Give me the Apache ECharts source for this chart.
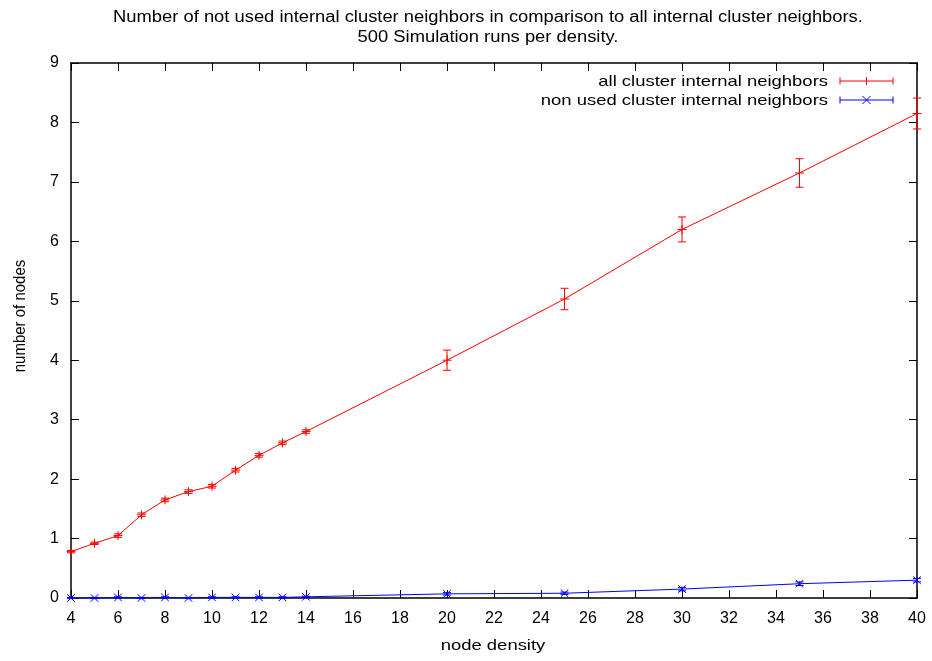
<!DOCTYPE html>
<html>
<head>
<meta charset="utf-8">
<script src="https://cdn.jsdelivr.net/npm/echarts@6/dist/echarts.min.js"></script>
<style>
  html, body { margin: 0; padding: 0; background: #fff; }
  #chart { width: 932px; height: 661px; }
</style>
</head>
<body>
<div id="chart"></div>
<script>
// Node densities simulated (x values)
const density = [4, 5, 6, 7, 8, 9, 10, 11, 12, 13, 14, 20, 25, 30, 35, 40];

// Mean number of all cluster-internal neighbors and its error
const allNeighbors = [0.78, 0.92, 1.05, 1.40, 1.65, 1.79, 1.88, 2.15, 2.40, 2.61, 2.80, 4.00, 5.03, 6.20, 7.15, 8.15];
const allNeighborsErr = [0.02, 0.02, 0.03, 0.03, 0.03, 0.03, 0.03, 0.03, 0.03, 0.03, 0.03, 0.17, 0.18, 0.21, 0.24, 0.26];

// Mean number of unused cluster-internal neighbors and its error
const unusedNeighbors = [0.00, 0.00, 0.01, 0.00, 0.01, 0.00, 0.01, 0.01, 0.01, 0.01, 0.02, 0.07, 0.08, 0.15, 0.24, 0.30];
const unusedNeighborsErr = [0.01, 0.01, 0.01, 0.01, 0.01, 0.01, 0.01, 0.01, 0.01, 0.01, 0.01, 0.02, 0.02, 0.03, 0.03, 0.03];

// Axis ticks
const xTicks = { min: 4, max: 40, step: 2 };
const yTicks = { min: 0, max: 9, step: 1 };

// Texts
const titleLines = [
  'Number of not used internal cluster neighbors in comparison to all internal cluster neighbors.',
  '500 Simulation runs per density.'
];
const seriesNames = ['all cluster internal neighbors', 'non used cluster internal neighbors'];
const xAxisName = 'node density';
const yAxisName = 'number of nodes';

const FONT = '"Liberation Sans", Arial, sans-serif';
const RED = '#ff0000';
const BLUE = '#0000ff';

function rows(xs, ys, es) {
  return xs.map((x, i) => [x, ys[i], es[i]]);
}

// Error bar with caps plus a point marker ('+' or 'x')
function errorBarRenderer(color, marker) {
  return function (params, api) {
    const x = api.value(0), y = api.value(1), e = api.value(2);
    const p = api.coord([x, y]);
    const hi = api.coord([x, y + e]);
    const lo = api.coord([x, y - e]);
    const cap = 4, m = 4.5;
    const style = { stroke: color, lineWidth: 1 };
    const children = [
      { type: 'line', shape: { x1: p[0], y1: hi[1], x2: p[0], y2: lo[1] }, style },
      { type: 'line', shape: { x1: p[0] - cap, y1: hi[1], x2: p[0] + cap, y2: hi[1] }, style },
      { type: 'line', shape: { x1: p[0] - cap, y1: lo[1], x2: p[0] + cap, y2: lo[1] }, style }
    ];
    if (marker === '+') {
      children.push({ type: 'line', shape: { x1: p[0] - m, y1: p[1], x2: p[0] + m, y2: p[1] }, style });
      children.push({ type: 'line', shape: { x1: p[0], y1: p[1] - m, x2: p[0], y2: p[1] + m }, style });
    } else {
      const d = 3.8;
      children.push({ type: 'line', shape: { x1: p[0] - d, y1: p[1] - d, x2: p[0] + d, y2: p[1] + d }, style });
      children.push({ type: 'line', shape: { x1: p[0] - d, y1: p[1] + d, x2: p[0] + d, y2: p[1] - d }, style });
    }
    return { type: 'group', children };
  };
}

// Wide-set text used for title, key and axis names
function wideText(text, x, y, align, size, stretch, rotated) {
  const el = {
    type: 'text', x, y, silent: true,
    style: { text, fill: '#000', fontSize: size, fontFamily: FONT, align, verticalAlign: 'middle' }
  };
  if (rotated) {
    el.rotation = Math.PI / 2;
    el.scaleY = stretch;
  } else {
    el.scaleX = stretch;
  }
  return el;
}

// Key entry: text on the left, line sample with error-bar caps and marker on the right
function keyEntry(name, color, marker, y) {
  const x1 = 840, x2 = 893, xm = 866.5, c = 3.5, m = 4;
  const st = { stroke: color, lineWidth: 1 };
  const parts = [
    wideText(name, 828, y + 0.5, 'right', 15, 1.23),
    { type: 'line', silent: true, shape: { x1, y1: y, x2, y2: y }, style: st },
    { type: 'line', silent: true, shape: { x1, y1: y - c, x2: x1, y2: y + c }, style: st },
    { type: 'line', silent: true, shape: { x1: x2, y1: y - c, x2, y2: y + c }, style: st }
  ];
  if (marker === '+') {
    parts.push({ type: 'line', silent: true, shape: { x1: xm, y1: y - m, x2: xm, y2: y + m }, style: st });
  } else {
    parts.push({ type: 'line', silent: true, shape: { x1: xm - m, y1: y - m, x2: xm + m, y2: y + m }, style: st });
    parts.push({ type: 'line', silent: true, shape: { x1: xm - m, y1: y + m, x2: xm + m, y2: y - m }, style: st });
  }
  return parts;
}

const axisLineStyle = { color: '#000', width: 1.5 };
const tickStyle = { show: true, inside: true, length: 8, lineStyle: { color: '#000', width: 1 } };
const labelStyle = { color: '#000', fontSize: 16, fontFamily: FONT };

const chart = echarts.init(document.getElementById('chart'), null, { renderer: 'canvas' });

chart.setOption({
  animation: false,
  backgroundColor: '#fff',
  graphic: [
    wideText(titleLines[0], 488, 18, 'center', 16, 1.147),
    wideText(titleLines[1], 488, 38, 'center', 16, 1.147),
    wideText(xAxisName, 493, 646, 'center', 15, 1.23),
    wideText(yAxisName, 20, 316, 'center', 15, 1.15, true),
    ...keyEntry(seriesNames[0], RED, '+', 81),
    ...keyEntry(seriesNames[1], BLUE, 'x', 100)
  ],
  grid: { left: 71, right: 15, top: 63, bottom: 63, containLabel: false },
  xAxis: [
    {
      type: 'value', min: xTicks.min, max: xTicks.max, interval: xTicks.step,
      axisLine: { show: true, onZero: false, lineStyle: axisLineStyle },
      axisTick: tickStyle,
      axisLabel: Object.assign({ margin: 13 }, labelStyle),
      splitLine: { show: false }
    },
    {
      type: 'value', position: 'top', min: xTicks.min, max: xTicks.max, interval: xTicks.step,
      axisLine: { show: true, onZero: false, lineStyle: axisLineStyle },
      axisTick: tickStyle,
      axisLabel: { show: false },
      splitLine: { show: false }
    }
  ],
  yAxis: [
    {
      type: 'value', min: yTicks.min, max: yTicks.max, interval: yTicks.step,
      axisLine: { show: true, onZero: false, lineStyle: axisLineStyle },
      axisTick: tickStyle,
      axisLabel: Object.assign({ margin: 12 }, labelStyle),
      splitLine: { show: false }
    },
    {
      type: 'value', position: 'right', min: yTicks.min, max: yTicks.max, interval: yTicks.step,
      axisLine: { show: true, onZero: false, lineStyle: axisLineStyle },
      axisTick: tickStyle,
      axisLabel: { show: false },
      splitLine: { show: false }
    }
  ],
  series: [
    {
      name: seriesNames[0],
      type: 'line',
      data: density.map((x, i) => [x, allNeighbors[i]]),
      symbol: 'none',
      lineStyle: { color: RED, width: 1 },
      itemStyle: { color: RED },
      z: 3
    },
    {
      name: seriesNames[0],
      type: 'custom',
      data: rows(density, allNeighbors, allNeighborsErr),
      encode: { x: 0, y: 1 },
      renderItem: errorBarRenderer(RED, '+'),
      itemStyle: { color: RED },
      z: 4
    },
    {
      name: seriesNames[1],
      type: 'line',
      data: density.map((x, i) => [x, unusedNeighbors[i]]),
      symbol: 'none',
      lineStyle: { color: BLUE, width: 1 },
      itemStyle: { color: BLUE },
      z: 3
    },
    {
      name: seriesNames[1],
      type: 'custom',
      data: rows(density, unusedNeighbors, unusedNeighborsErr),
      encode: { x: 0, y: 1 },
      renderItem: errorBarRenderer(BLUE, 'x'),
      itemStyle: { color: BLUE },
      z: 4
    }
  ]
});
</script>
</body>
</html>
